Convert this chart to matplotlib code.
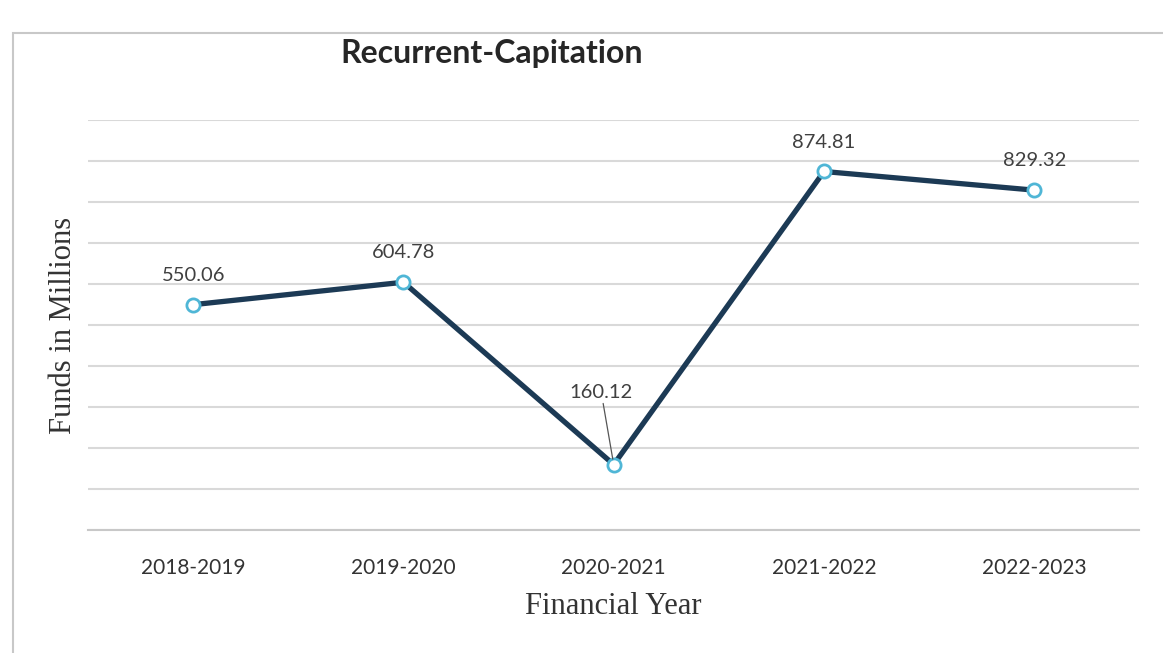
import matplotlib.pyplot as plt
from matplotlib.patches import Rectangle

years = ["2018-2019", "2019-2020", "2020-2021", "2021-2022", "2022-2023"]
funds = [550.06, 604.78, 160.12, 874.81, 829.32]
label_text = ["550.06", "604.78", "160.12", "874.81", "829.32"]

fig = plt.figure(figsize=(11.63, 6.53), dpi=100)
ax = fig.add_axes([0.0757, 0.188, 0.904, 0.628])

# chart border
fig.patches.append(Rectangle((0.011, -0.02), 1.0, 0.97, transform=fig.transFigure,
                             fill=False, edgecolor="#c8c8c8", linewidth=1.5))

x = range(len(years))
ax.plot(x, funds, color="#1c3a55", linewidth=3.8, marker="o", markersize=9.5,
        markerfacecolor="white", markeredgecolor="#4fb6d6", markeredgewidth=2, zorder=3)

for i, v in enumerate(funds):
    if i == 2:
        ax.annotate(label_text[i], (i, v), xytext=(-9, 46), textcoords="offset points",
                    ha="center", va="bottom", fontsize=14.5, color="#404040", family="Lato",
                    arrowprops=dict(arrowstyle="-", color="#555555", lw=0.9,
                                    shrinkA=0, shrinkB=4))
    else:
        ax.annotate(label_text[i], (i, v), xytext=(0, 15), textcoords="offset points",
                    ha="center", va="bottom", fontsize=14.5, color="#404040", family="Lato")

ax.set_xlim(-0.5, 4.5)
ax.set_ylim(0, 1000)
ax.set_yticks(range(0, 1001, 100))
ax.set_yticklabels([])
ax.tick_params(axis="y", length=0)
ax.tick_params(axis="x", length=0, pad=20)
ax.set_xticks(list(x))
ax.set_xticklabels(years, fontsize=15, family="Lato", color="#333333")
ax.grid(axis="y", color="#d9d9d9", linewidth=1.5)
ax.set_axisbelow(True)
for s in ["top", "right", "left"]:
    ax.spines[s].set_visible(False)
ax.spines["bottom"].set_color("#c8c8c8")
ax.spines["bottom"].set_linewidth(1.5)

ax.set_xlabel("Financial Year", fontsize=22, family="Liberation Serif", color="#333333",
              labelpad=10)
ax.set_ylabel("Funds in Millions", fontsize=22, family="Liberation Serif", color="#333333",
              labelpad=4)
fig.text(0.423, 0.918, "Recurrent-Capitation", ha="center", va="center", fontsize=23,
         fontweight="bold", family="Lato", color="#262626")

fig.savefig("out.png", dpi=100, facecolor="white")
